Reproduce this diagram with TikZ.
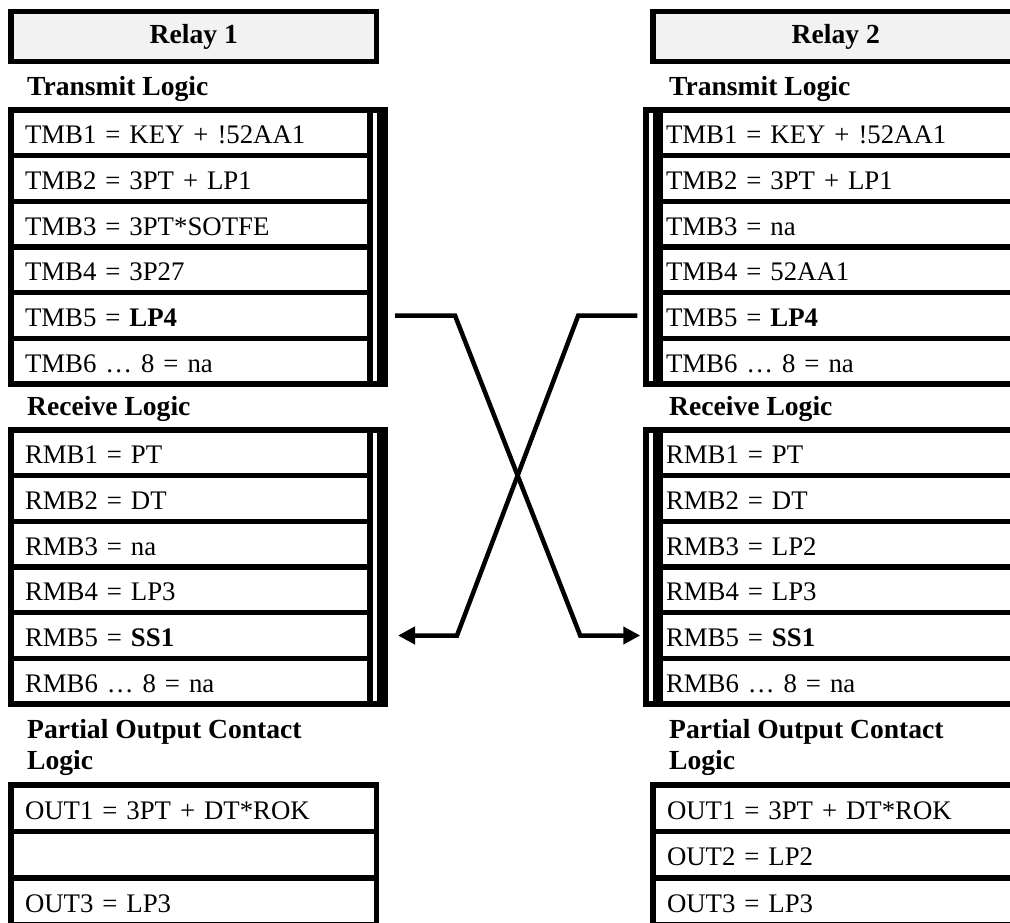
\documentclass[tikz,border=0pt]{standalone}
\usepackage{fontspec}
\setmainfont{Liberation Serif}
\usetikzlibrary{arrows.meta,calc}
\definecolor{hdrgray}{RGB}{242,242,242}
\begin{document}
\begin{tikzpicture}[x=1pt,y=-1pt,
  every node/.style={font=\fontsize{26.8pt}{31pt}\selectfont},
  frame/.style={draw, line width=5.5pt, inner sep=0pt, rectangle},
  bar/.style={fill=black, draw=none, inner sep=0pt, outer sep=0pt, rectangle},
  hdr/.style={draw, line width=5.5pt, fill=hdrgray, inner sep=0pt, minimum width=365.5pt, minimum height=50pt, font=\fontsize{27.6pt}{31pt}\selectfont\bfseries},
  head/.style={inner sep=0pt, anchor=base west, font=\fontsize{27.6pt}{31pt}\selectfont\bfseries},
  cell/.style={draw, line width=5.5pt, inner ysep=0pt, text height=22pt, text depth=0pt, align=left, anchor=west},
  lcell/.style={cell, inner xsep=14.25pt, text width=330.75pt, minimum height=45.67pt},
  rcell/.style={cell, inner xsep=6pt, text width=368pt, minimum height=45.67pt},
  locell/.style={cell, inner xsep=14pt, text width=337.5pt, minimum height=46.5pt},
  rocell/.style={cell, inner xsep=14pt, text width=362pt, minimum height=46.5pt},
  conn/.style={line width=4.5pt, -{Triangle[length=17pt,width=17pt]}}
]
\useasboundingbox (0,0) rectangle (1010,922);
\fill[white] (0,0) rectangle (1010,922);
\clip (0,0) rectangle (1010,922);

% ---------- Relay 1 ----------
\node[hdr] (LH) at (193.75,36.7) {Relay 1};
\node[head] (LTh) at (27,95) {Transmit Logic};
\node[frame, minimum width=374.5pt, minimum height=274pt] (LT) at (198,247) {};
\node[bar, minimum width=11pt, minimum height=274pt] (LTbar) at (382.5,247) {};
\node[lcell] (LT1) at (8,132.83) {TMB1 = KEY + !52AA1};
\node[lcell] (LT2) at (8,178.5) {TMB2 = 3PT + LP1};
\node[lcell] (LT3) at (8,224.17) {TMB3 = 3PT*SOTFE};
\node[lcell] (LT4) at (8,269.83) {TMB4 = 3P27};
\node[lcell] (LT5) at (8,315.5) {TMB5 = \textbf{LP4}};
\node[lcell] (LT6) at (8,361.17) {TMB6 … 8 = na};

\node[head] (LRh) at (27,415) {Receive Logic};
\node[frame, minimum width=374.5pt, minimum height=274pt] (LR) at (198,567) {};
\node[bar, minimum width=11pt, minimum height=274pt] (LRbar) at (382.5,567) {};
\node[lcell] (LR1) at (8,452.83) {RMB1 = PT};
\node[lcell] (LR2) at (8,498.5) {RMB2 = DT};
\node[lcell] (LR3) at (8,544.17) {RMB3 = na};
\node[lcell] (LR4) at (8,589.83) {RMB4 = LP3};
\node[lcell] (LR5) at (8,635.5) {RMB5 = \textbf{SS1}};
\node[lcell] (LR6) at (8,681.17) {RMB6 … 8 = na};

\node[head] (LOh1) at (27,738) {Partial Output Contact};
\node[head] (LOh2) at (27,769) {Logic};
\node[locell] (LO1) at (8.25,808.25) {OUT1 = 3PT + DT*ROK};
\node[locell] (LO2) at (8.25,854.75) {};
\node[locell] (LO3) at (8.25,901.25) {OUT3 = LP3};

% ---------- Relay 2 ----------
\node[hdr] (RH) at (835.75,36.7) {Relay 2};
\node[head] (RTh) at (669,95) {Transmit Logic};
\node[frame, minimum width=394pt, minimum height=274pt] (RT) at (843,247) {};
\node[bar, minimum width=10pt, minimum height=274pt] (RTbar) at (658,247) {};
\node[rcell] (RT1) at (657.25,132.83) {TMB1 = KEY + !52AA1};
\node[rcell] (RT2) at (657.25,178.5) {TMB2 = 3PT + LP1};
\node[rcell] (RT3) at (657.25,224.17) {TMB3 = na};
\node[rcell] (RT4) at (657.25,269.83) {TMB4 = 52AA1};
\node[rcell] (RT5) at (657.25,315.5) {TMB5 = \textbf{LP4}};
\node[rcell] (RT6) at (657.25,361.17) {TMB6 … 8 = na};

\node[head] (RRh) at (669,415) {Receive Logic};
\node[frame, minimum width=394pt, minimum height=274pt] (RR) at (843,567) {};
\node[bar, minimum width=10pt, minimum height=274pt] (RRbar) at (658,567) {};
\node[rcell] (RR1) at (657.25,452.83) {RMB1 = PT};
\node[rcell] (RR2) at (657.25,498.5) {RMB2 = DT};
\node[rcell] (RR3) at (657.25,544.17) {RMB3 = LP2};
\node[rcell] (RR4) at (657.25,589.83) {RMB4 = LP3};
\node[rcell] (RR5) at (657.25,635.5) {RMB5 = \textbf{SS1}};
\node[rcell] (RR6) at (657.25,681.17) {RMB6 … 8 = na};

\node[head] (ROh1) at (669,738) {Partial Output Contact};
\node[head] (ROh2) at (669,769) {Logic};
\node[rocell] (RO1) at (650.25,808.25) {OUT1 = 3PT + DT*ROK};
\node[rocell] (RO2) at (650.25,854.75) {OUT2 = LP2};
\node[rocell] (RO3) at (650.25,901.25) {OUT3 = LP3};

% ---------- crossing connectors ----------
\draw[conn] ($(LT.east |- LT5.center)+(7,0)$) -- ($(LT.east |- LT5.center)+(67,0)$)
  -- ($(RR.west |- RR5.center)+(-63,0)$) -- ($(RR.west |- RR5.center)+(-3,0)$);
\draw[conn] ($(RT.west |- RT5.center)+(-6,0)$) -- ($(RT.west |- RT5.center)+(-65,0)$)
  -- ($(LR.east |- LR5.center)+(69,0)$) -- ($(LR.east |- LR5.center)+(10,0)$);
\end{tikzpicture}
\end{document}
